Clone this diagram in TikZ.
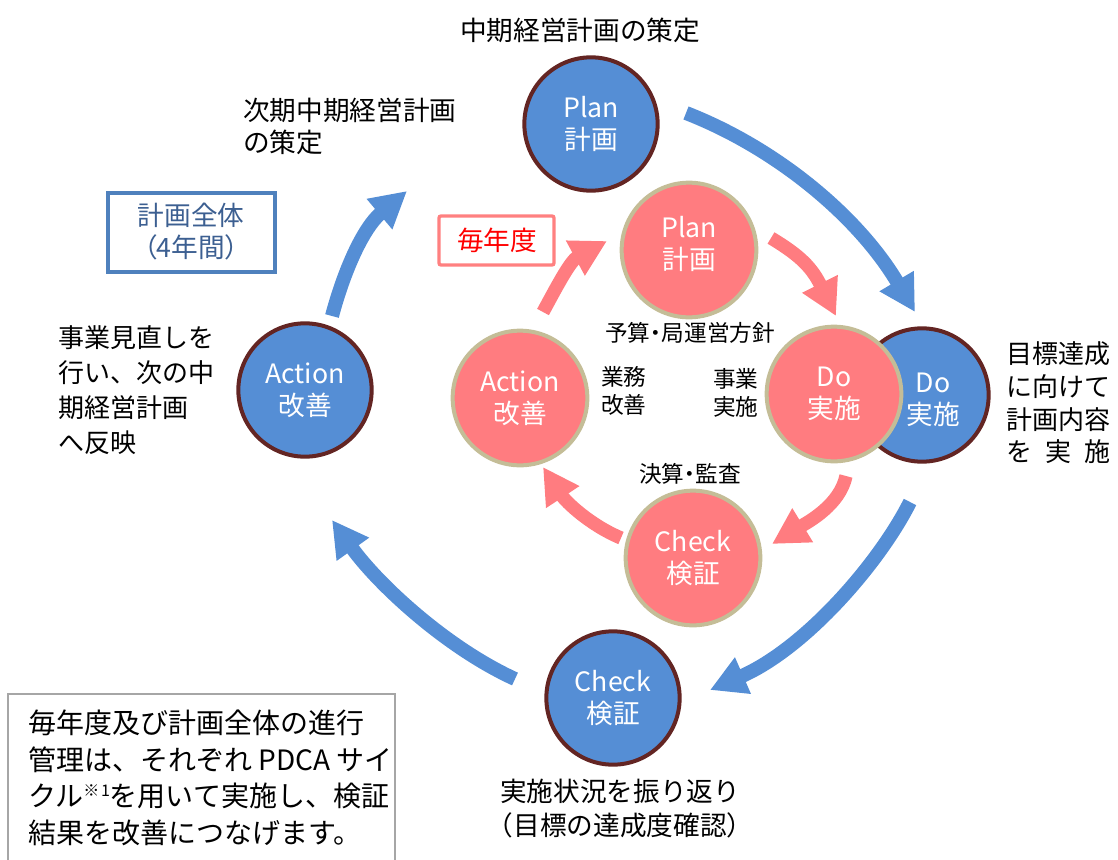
\documentclass[tikz,border=0pt]{standalone}
\usepackage{fontspec}
\setmainfont{Noto Sans CJK JP}
\usetikzlibrary{arrows.meta}
\definecolor{bfill}{RGB}{85,142,213}
\definecolor{bedge}{RGB}{99,37,35}
\definecolor{pfill}{RGB}{255,124,128}
\definecolor{pedge}{RGB}{196,189,151}
\definecolor{boxblue}{RGB}{79,129,189}
\definecolor{boxtext}{RGB}{60,95,145}
\definecolor{boxpink}{RGB}{255,128,128}
\definecolor{graybox}{RGB}{166,166,166}
\begin{document}
\begin{tikzpicture}[x=0.75pt,y=-0.75pt,
  bcirc/.style={circle,draw=bedge,fill=bfill,line width=3pt,minimum size=100pt,inner sep=0pt,text=white,align=center,font=\fontsize{20}{24}\selectfont},
  pcirc/.style={circle,draw=pedge,fill=pfill,line width=3pt,minimum size=101pt,inner sep=0pt,text=white,align=center,font=\fontsize{20}{24}\selectfont},
  barr/.style={draw=bfill,line width=10.5pt,-{Triangle[length=27pt,width=28pt]}},
  parr/.style={draw=pfill,line width=10pt,-{Triangle[length=27pt,width=28pt]}},
  lbl/.style={inner sep=0pt,align=left,font=\fontsize{20}{24}\selectfont},
  small/.style={inner sep=0pt,align=left,font=\fontsize{17}{21}\selectfont},
]
\path[use as bounding box] (0,0) rectangle (1118,860);

% blue outer circles
\node[bcirc] (bplan) at (591,124) {Plan\\計画};
\node[bcirc] (bdo) at (922,395) {};
\node[bcirc] (bcheck) at (613,698) {Check\\検証};
\node[bcirc] (baction) at (305,390) {Action\\改善};

% pink inner circles
\node[pcirc] (pplan) at (689,250) {};
\node[pcirc] (pdo) at (834,394) {Do\\実施};
\node[pcirc] (pcheck) at (693,558) {Check\\検証};
\node[pcirc] (paction) at (520,398) {Action\\改善};
\node[inner sep=0pt,text=white,align=center,font=\fontsize{20}{24}\selectfont] (pplant) at (689,244) {Plan\\計画};
\node[inner sep=0pt,text=white,align=center,font=\fontsize{20}{24}\selectfont] (bdot) at (933,400) {Do\\実施};

% arrow end points
\coordinate (b1s) at (686,113); \coordinate (b1e) at (915,312);
\coordinate (b2s) at (910,502); \coordinate (b2e) at (710,690);
\coordinate (b3s) at (515,679); \coordinate (b3e) at (332,520);
\coordinate (b4s) at (332,316); \coordinate (b4e) at (407,191);
\coordinate (p1s) at (771,238); \coordinate (p1e) at (836,316);
\coordinate (p2s) at (846,476); \coordinate (p2e) at (772,544);
\coordinate (p3s) at (621,538); \coordinate (p3e) at (543,467);
\coordinate (p4s) at (543,312); \coordinate (p4e) at (607,241);

% blue arrows
\draw[barr] (b1s) .. controls (776,148) and (858,216) .. (b1e);
\draw[barr] (b2s) .. controls (880,562) and (806,648) .. (b2e);
\draw[barr] (b3s) .. controls (445,647) and (377,583) .. (b3e);
\draw[barr] (b4s) .. controls (344,271) and (363,228) .. (b4e);

% pink arrows
\draw[parr] (p1s) .. controls (801,256) and (812,268) .. (p1e);
\draw[parr] (p2s) .. controls (840,505) and (808,522) .. (p2e);
\draw[parr] (p3s) .. controls (590,525) and (566,502) .. (p3e);
\draw[parr] (p4s) .. controls (555,290) and (570,261) .. (p4e);

% labels
\node[lbl] (top) at (580,30) {中期経営計画の策定};
\node[lbl,anchor=west,font=\fontsize{20}{24}\selectfont] (next) at (243,126) {次期中期経営計画\\の策定};
\node[lbl,anchor=west,font=\fontsize{19.5}{26.3}\selectfont] (review) at (58,390) {事業見直しを\\行い、次の中\\期経営計画\\へ反映};
\node[lbl,anchor=west,font=\fontsize{19.5}{24.5}\selectfont] (goal) at (1006,403) {目標達成\\に向けて\\計画内容\\\makebox[4em][l]{を\hfill 実\hfill 施}};
\node[small,align=center] (budget) at (690,333) {\addfontfeatures{RawFeature=+palt}予算・局運営方針};
\node[small,anchor=west] (gyomu) at (601,391) {業務\\改善};
\node[small,anchor=west] (jigyo) at (713,393) {事業\\実施};
\node[small,align=center] (kessan) at (690,474) {\addfontfeatures{RawFeature=+palt}決算・監査};
\node[lbl,align=center,font=\fontsize{20}{25.5}\selectfont] (furikaeri) at (620,809) {実施状況を振り返り\\（目標の達成度確認）};

% boxes
\draw[boxblue,line width=3pt] (108,193) rectangle (275,272);
\node[lbl,align=center,text=boxtext] (zentai) at (191,232) {計画全体\\{\addfontfeatures{RawFeature=+palt}（4年間）}};
\draw[boxpink,line width=2.5pt,rounded corners=1.5pt] (439,216) rectangle (554,265);
\node[lbl,text=red] (maitoshi) at (497,240) {毎年度};

% note box
\draw[graybox,line width=0.8pt] (8,870) -- (8,694) -- (395,694) -- (395,870);
\node[lbl,anchor=west,font=\fontsize{21}{27.4}\selectfont] (note) at (28,778) {毎年度及び計画全体の進行\\管理は、それぞれ PDCA サイ\\クル\raisebox{0.7ex}{\fontsize{12}{12}\selectfont ※\kern0.1em 1}を用いて実施し、検証\\結果を改善につなげます。};
\end{tikzpicture}
\end{document}
